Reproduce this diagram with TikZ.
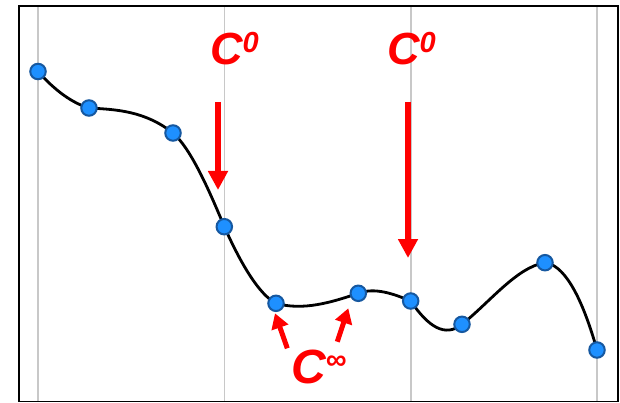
\documentclass[tikz,border=0pt]{standalone}
\usepackage{fontspec}
\setmainfont{Liberation Sans}
\usetikzlibrary{arrows.meta}
\definecolor{dotfill}{RGB}{30,144,255}
\definecolor{dotedge}{RGB}{22,88,160}
\definecolor{gridgray}{RGB}{200,200,200}
\tikzset{
  grid line/.style={draw=gridgray, line width=1.8pt},
  frame line/.style={draw=black, line width=1.6pt},
  curve line/.style={draw=black, line width=2.8pt},
  dot/.style={circle, fill=dotfill, draw=dotedge, line width=2pt, minimum size=15.5pt, inner sep=0pt},
  bigarrow/.style={draw=red, line width=6pt, -{Triangle[length=19pt,width=19pt]}},
  smallarrow/.style={draw=red, line width=5pt, -{Triangle[length=15pt,width=17pt]}},
  lab/.style={text=red, inner sep=0pt, anchor=base west, font=\bfseries\itshape},
}
\newcommand{\bigC}[1]{\fontsize{45}{45}\selectfont C\raisebox{12pt}{\fontsize{29}{29}\selectfont #1}}
\begin{document}
\begin{tikzpicture}[x=1pt, y=-1pt]
\useasboundingbox (0,0) rectangle (620,403);
% grid
\foreach \gx in {38,224.5,411,597} \draw[grid line] (\gx,6) -- (\gx,401.5);
\draw[frame line] (19,6) rectangle (618,401.5);
% points
\coordinate (p1) at (38,71.5);
\coordinate (p2) at (89,108);
\coordinate (p3) at (173,133);
\coordinate (p4) at (224.3,226.7);
\coordinate (p5) at (276,303.3);
\coordinate (p6) at (358.3,293.3);
\coordinate (p7) at (410.7,301);
\coordinate (p8) at (462,324.3);
\coordinate (p9) at (545,262.7);
\coordinate (p10) at (597,350);
\draw[curve line] (p1) .. controls (55,90.5) and (72,103) .. (p2)
  .. controls (117,109.5) and (145,111) .. (p3)
  .. controls (190,148) and (207,185) .. (p4)
  .. controls (241,264) and (259,294.5) .. (p5)
  .. controls (303,311) and (331,302.5) .. (p6)
  .. controls (375,287) and (394,294) .. (p7)
  .. controls (428,326.5) and (445,338) .. (p8)
  .. controls (490,302) and (517,267) .. (p9)
  .. controls (562,264.5) and (580,290) .. (p10);
\foreach \i in {1,...,10} \node[dot] (d\i) at (p\i) {};
% labels
\node[lab] (c0a) at (210,65) {\bigC{0}};
\node[lab] (c0b) at (387,65) {\bigC{0}};
\node[lab] (cinf) at (291,383) {\fontsize{48}{48}\selectfont C\raisebox{14pt}{\fontsize{29}{29}\selectfont ∞}};
% arrows
\coordinate (a1s) at (218,102); \coordinate (a1e) at (218,190);
\coordinate (a2s) at (408,102); \coordinate (a2e) at (408,258);
\draw[bigarrow] (a1s) -- (a1e);
\draw[bigarrow] (a2s) -- (a2e);
\coordinate (a3s) at (287.3,348.3); \coordinate (a3e) at (275,313.3);
\coordinate (a4s) at (337.3,341.7); \coordinate (a4e) at (348.3,308.3);
\draw[smallarrow] (a3s) -- (a3e);
\draw[smallarrow] (a4s) -- (a4e);
\end{tikzpicture}
\end{document}
